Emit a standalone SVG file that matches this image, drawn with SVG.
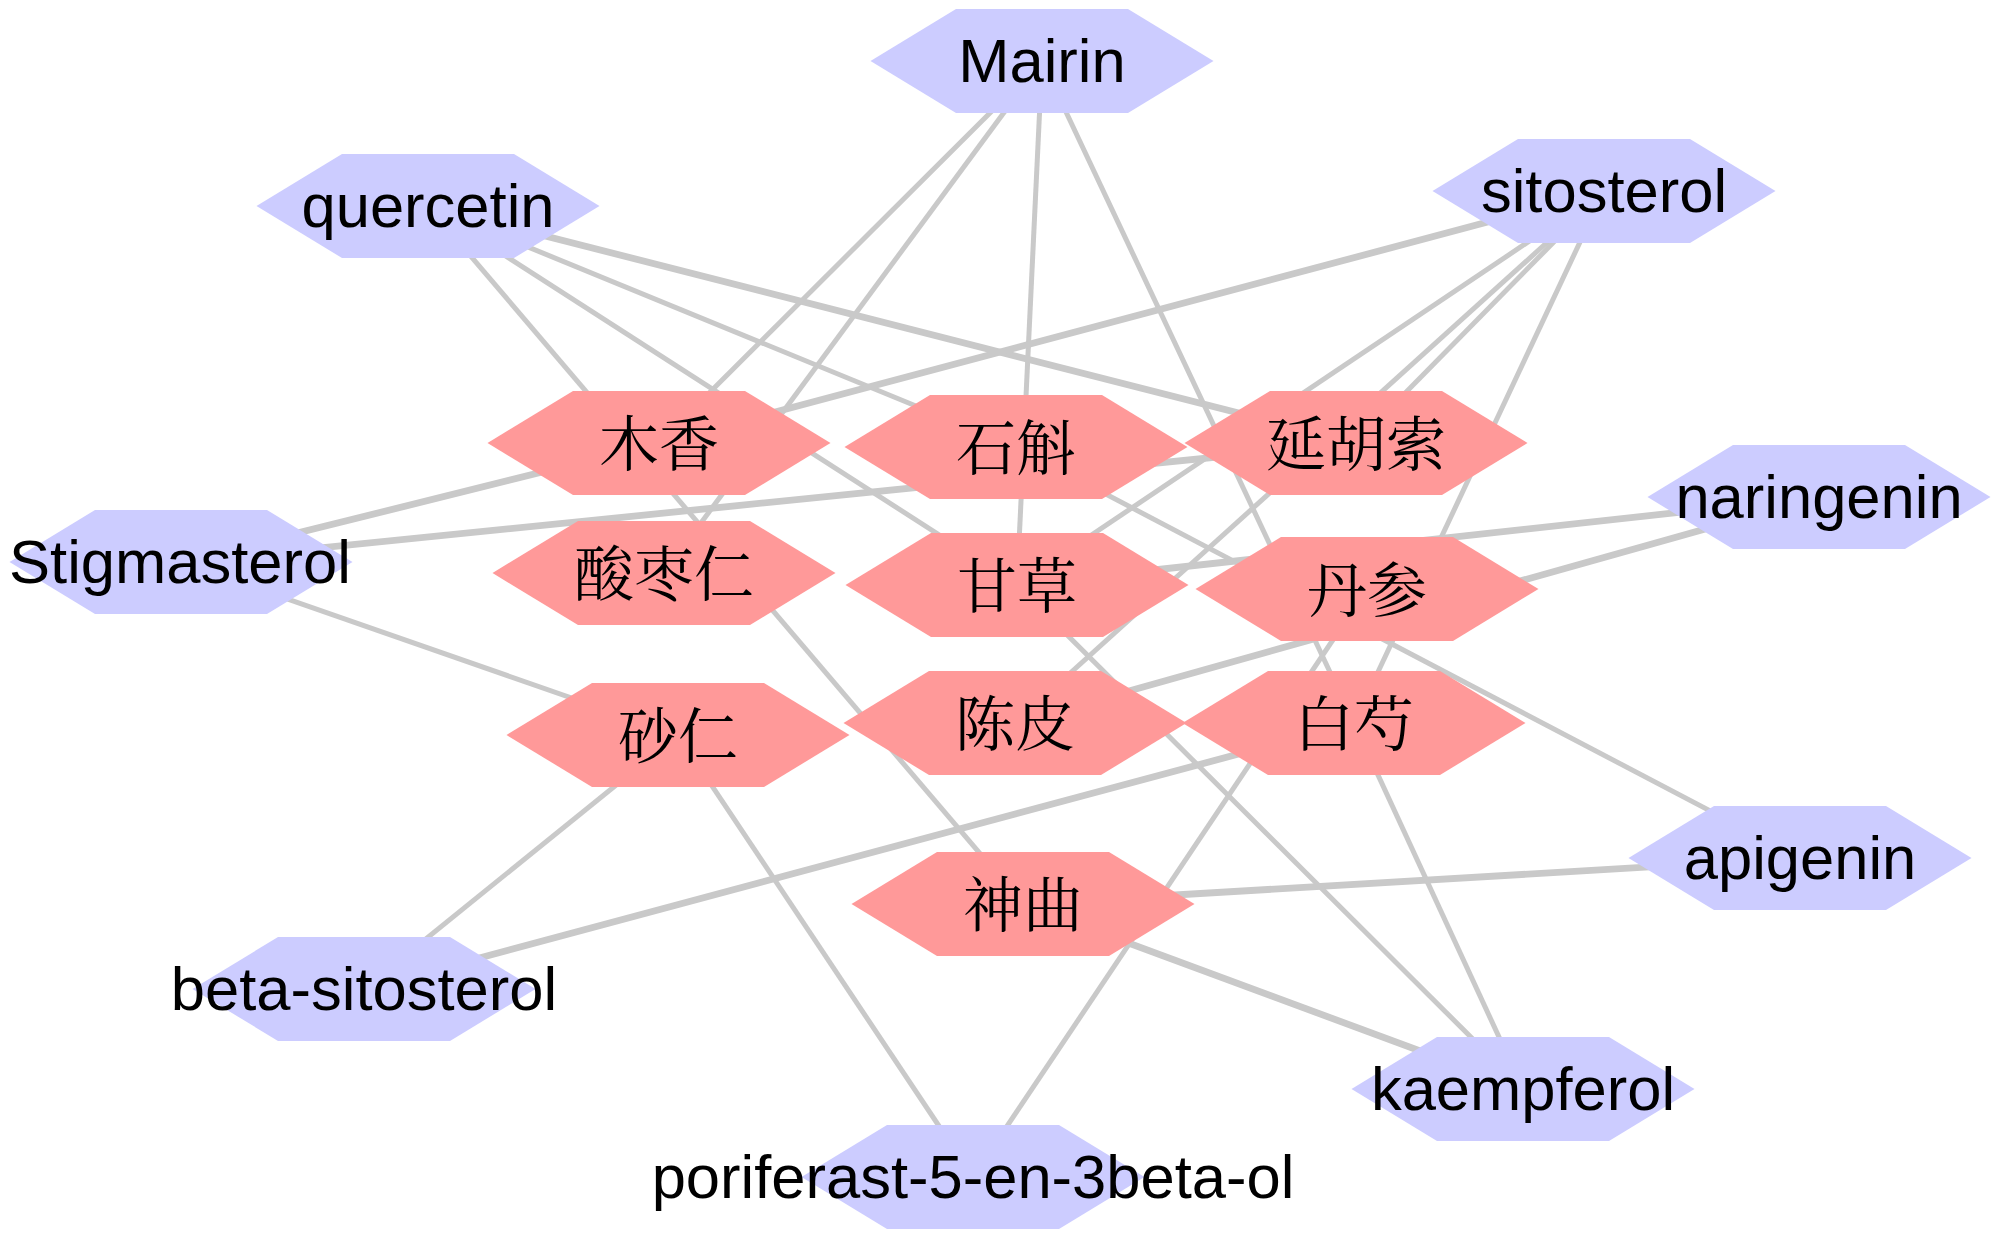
<svg xmlns="http://www.w3.org/2000/svg" xmlns:xlink="http://www.w3.org/1999/xlink" width="2000" height="1237" viewBox="0 0 2000 1237">
<style>
.e{stroke:#c9c9c9;stroke-width:5;fill:none}
.t{stroke-width:6.8}
.b{fill:#ccccff}
.r{fill:#ff9999}
.l{font-family:"Liberation Sans",Arial,sans-serif;font-size:61.5px;fill:#000;text-anchor:middle}
.c{font-family:"Noto Serif CJK SC","Noto Sans CJK SC",serif;font-size:60px;fill:#000;text-anchor:middle}
</style>
<defs>
<polygon id="hex" points="-171.5,0 -86,-52 86,-52 171.5,0 86,52 -86,52"/>
</defs>
<rect width="2000" height="1237" fill="#fff"/>
<g id="edges">
<line class="e" x1="1042" y1="61" x2="659" y2="443"/>
<line class="e" x1="1042" y1="61" x2="664" y2="573"/>
<line class="e" x1="1042" y1="61" x2="1017" y2="585"/>
<line class="e" x1="1042" y1="61" x2="1354" y2="723"/>
<line class="e" x1="428" y1="206" x2="1023" y2="904"/>
<line class="e" x1="428" y1="206" x2="1017" y2="585"/>
<line class="e" x1="428" y1="206" x2="1016" y2="447"/>
<line class="e t" x1="428" y1="206" x2="1356" y2="443"/>
<line class="e t" x1="181" y1="562" x2="659" y2="443"/>
<line class="e t" x1="181" y1="562" x2="1356" y2="443"/>
<line class="e" x1="181" y1="562" x2="678" y2="735"/>
<line class="e t" x1="1604" y1="191" x2="659" y2="443"/>
<line class="e" x1="1604" y1="191" x2="1017" y2="585"/>
<line class="e" x1="1604" y1="191" x2="1015" y2="723"/>
<line class="e" x1="1604" y1="191" x2="1356" y2="443"/>
<line class="e" x1="1604" y1="191" x2="1354" y2="723"/>
<line class="e t" x1="1819" y1="497" x2="1017" y2="585"/>
<line class="e t" x1="1819" y1="497" x2="1015" y2="723"/>
<line class="e" x1="1800" y1="858" x2="1016" y2="447"/>
<line class="e t" x1="1800" y1="858" x2="1023" y2="904"/>
<line class="e" x1="1523" y1="1089" x2="1017" y2="585"/>
<line class="e" x1="1523" y1="1089" x2="1354" y2="723"/>
<line class="e t" x1="1523" y1="1089" x2="1023" y2="904"/>
<line class="e" x1="364" y1="989" x2="678" y2="735"/>
<line class="e t" x1="364" y1="989" x2="1354" y2="723"/>
<line class="e" x1="973" y1="1177" x2="678" y2="735"/>
<line class="e" x1="973" y1="1177" x2="1367" y2="589"/>
</g>
<g id="n-muxiang"><use xlink:href="#hex" class="r" x="659" y="443"/><text class="c" x="659" y="466">木香</text></g>
<g id="n-shihu"><use xlink:href="#hex" class="r" x="1016" y="447"/><text class="c" x="1016" y="470">石斛</text></g>
<g id="n-yanhusuo"><use xlink:href="#hex" class="r" x="1356" y="443"/><text class="c" x="1356" y="466">延胡索</text></g>
<g id="n-suanzaoren"><use xlink:href="#hex" class="r" x="664" y="573"/><text class="c" x="664" y="596">酸枣仁</text></g>
<g id="n-gancao"><use xlink:href="#hex" class="r" x="1017" y="585"/><text class="c" x="1017" y="608">甘草</text></g>
<g id="n-danshen"><use xlink:href="#hex" class="r" x="1367" y="589"/><text class="c" x="1367" y="612">丹参</text></g>
<g id="n-sharen"><use xlink:href="#hex" class="r" x="678" y="735"/><text class="c" x="678" y="758">砂仁</text></g>
<g id="n-chenpi"><use xlink:href="#hex" class="r" x="1015" y="723"/><text class="c" x="1015" y="746">陈皮</text></g>
<g id="n-baishao"><use xlink:href="#hex" class="r" x="1354" y="723"/><text class="c" x="1354" y="746">白芍</text></g>
<g id="n-shenqu"><use xlink:href="#hex" class="r" x="1023" y="904"/><text class="c" x="1023" y="927">神曲</text></g>
<g id="n-mairin"><use xlink:href="#hex" class="b" x="1042" y="61"/><text class="l" x="1042" y="82">Mairin</text></g>
<g id="n-quercetin"><use xlink:href="#hex" class="b" x="428" y="206"/><text class="l" x="428" y="227">quercetin</text></g>
<g id="n-sitosterol"><use xlink:href="#hex" class="b" x="1604" y="191"/><text class="l" x="1604" y="212">sitosterol</text></g>
<g id="n-naringenin"><use xlink:href="#hex" class="b" x="1819" y="497"/><text class="l" x="1819" y="518">naringenin</text></g>
<g id="n-stigmasterol"><use xlink:href="#hex" class="b" x="181" y="562"/><text class="l" x="180" y="583">Stigmasterol</text></g>
<g id="n-apigenin"><use xlink:href="#hex" class="b" x="1800" y="858"/><text class="l" x="1800" y="879">apigenin</text></g>
<g id="n-beta-sitosterol"><use xlink:href="#hex" class="b" x="364" y="989"/><text class="l" x="364" y="1010">beta-sitosterol</text></g>
<g id="n-kaempferol"><use xlink:href="#hex" class="b" x="1523" y="1089"/><text class="l" x="1523" y="1110">kaempferol</text></g>
<g id="n-poriferast"><use xlink:href="#hex" class="b" x="973" y="1177"/><text class="l" x="973" y="1198">poriferast-5-en-3beta-ol</text></g>
</svg>
